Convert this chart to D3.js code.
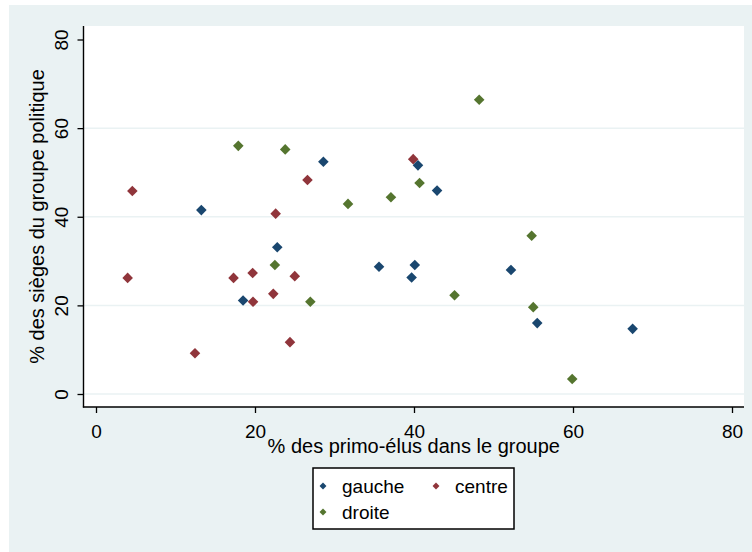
<!DOCTYPE html>
<html>
<head>
<meta charset="utf-8">
<script src="https://cdn.jsdelivr.net/npm/d3@7"></script>
<style>
  html, body { margin: 0; padding: 0; background: #ffffff; }
  svg { display: block; font-family: "Liberation Sans", Arial, sans-serif; }
</style>
</head>
<body>
<svg id="chart" width="752" height="552"></svg>
<script>
// ---- data ----
const seriesNames = ["gauche", "centre", "droite"];
const gaucheX = [13.25, 18.5, 22.8, 28.6, 35.6, 39.7, 40.1, 40.5, 42.9, 52.2, 55.5, 67.5];
const gaucheY = [41.5, 21.1, 33.1, 52.4, 28.7, 26.3, 29.1, 51.6, 45.9, 28.0, 16.0, 14.7];
const centreX = [3.98, 4.57, 12.45, 17.3, 19.7, 19.75, 22.3, 22.6, 24.4, 25.0, 26.6, 39.9];
const centreY = [26.2, 45.8, 9.2, 26.2, 27.3, 20.8, 22.6, 40.7, 11.7, 26.6, 48.3, 53.0];
const droiteX = [17.9, 22.5, 23.8, 26.96, 31.7, 37.1, 40.7, 45.1, 48.2, 54.8, 55.0, 59.9];
const droiteY = [56.0, 29.1, 55.2, 20.8, 42.9, 44.4, 47.6, 22.3, 66.4, 35.7, 19.6, 3.4];
const xTicks = [0, 20, 40, 60, 80];
const yTicks = [0, 20, 40, 60, 80];
const gridTicks = [0, 20, 40, 60];
const xTitle = "% des primo-élus dans le groupe";
const yTitle = "% des sièges du groupe politique";

const colors = { gauche: "#1a476f", centre: "#90353b", droite: "#55752f" };

const series = [
  { name: "centre", xs: centreX, ys: centreY },
  { name: "gauche", xs: gaucheX, ys: gaucheY },
  { name: "droite", xs: droiteX, ys: droiteY }
];

// ---- layout ----
const svg = d3.select("#chart");
const plot = { left: 83.5, right: 744, top: 26, bottom: 407 };

svg.append("rect").attr("x", 9).attr("y", 5).attr("width", 743).attr("height", 547)
  .attr("fill", "#eaf2f3");
svg.append("rect").attr("x", plot.left).attr("y", plot.top)
  .attr("width", plot.right - plot.left).attr("height", plot.bottom - plot.top)
  .attr("fill", "#ffffff");

const x = d3.scaleLinear().domain([0, 80]).range([96, 732]);
const y = d3.scaleLinear().domain([0, 80]).range([394, 39.5]);

// gridlines
svg.append("g").selectAll("line").data(gridTicks).join("line")
  .attr("x1", plot.left).attr("x2", plot.right)
  .attr("y1", d => y(d)).attr("y2", d => y(d))
  .attr("stroke", "#eaf2f3").attr("stroke-width", 1.5);

// y axis
const yAxis = svg.append("g").attr("transform", `translate(${plot.left},0)`)
  .call(d3.axisLeft(y).tickValues(yTicks).tickSize(6).tickSizeOuter(0).tickFormat(d3.format("d")));
yAxis.select(".domain").remove();
yAxis.selectAll(".tick line").attr("stroke", "#000").attr("stroke-width", 1.3);
yAxis.selectAll(".tick text")
  .attr("x", null).attr("dy", null)
  .attr("transform", "translate(-15.5,0) rotate(-90)")
  .attr("text-anchor", "middle")
  .attr("fill", "#000")
  .style("font-size", "19px").style("font-family", "Liberation Sans, Arial, sans-serif");

// x axis
const xAxis = svg.append("g").attr("transform", `translate(0,${plot.bottom})`)
  .call(d3.axisBottom(x).tickValues(xTicks).tickSize(6).tickSizeOuter(0).tickFormat(d3.format("d")));
xAxis.select(".domain").remove();
xAxis.selectAll(".tick line").attr("stroke", "#000").attr("stroke-width", 1.3);
xAxis.selectAll(".tick text")
  .attr("y", 31).attr("dy", null)
  .attr("fill", "#000")
  .style("font-size", "19px").style("font-family", "Liberation Sans, Arial, sans-serif");

// axis lines
svg.append("line").attr("x1", plot.left).attr("x2", plot.left)
  .attr("y1", plot.top).attr("y2", plot.bottom + 0.6)
  .attr("stroke", "#000").attr("stroke-width", 1.4);
svg.append("line").attr("x1", plot.left - 0.6).attr("x2", plot.right)
  .attr("y1", plot.bottom).attr("y2", plot.bottom)
  .attr("stroke", "#000").attr("stroke-width", 1.4);

// titles
svg.append("text").attr("x", (plot.left + plot.right) / 2).attr("y", 453)
  .attr("text-anchor", "middle").attr("fill", "#000")
  .style("font-size", "20px").text(xTitle);
svg.append("text")
  .attr("transform", `translate(44,${(plot.top + plot.bottom) / 2}) rotate(-90)`)
  .attr("text-anchor", "middle").attr("fill", "#000")
  .style("font-size", "20px").text(yTitle);

// markers
const diamond = d3.symbol().type(d3.symbolSquare).size(56);
series.forEach(s => {
  const pts = s.xs.map((v, i) => [v, s.ys[i]]);
  svg.append("g").selectAll("path").data(pts).join("path")
    .attr("d", diamond)
    .attr("transform", d => `translate(${x(d[0])},${y(d[1])}) rotate(45)`)
    .attr("fill", colors[s.name]);
});

// legend
const lg = svg.append("g");
lg.append("rect").attr("x", 313).attr("y", 468).attr("width", 201).attr("height", 61)
  .attr("fill", "#fff").attr("stroke", "#000").attr("stroke-width", 1.5);
const legendPos = [
  { name: "gauche", mx: 323, my: 486 },
  { name: "centre", mx: 436, my: 486 },
  { name: "droite", mx: 323, my: 512 }
];
const smallDiamond = d3.symbol().type(d3.symbolSquare).size(24);
legendPos.forEach(l => {
  lg.append("path").attr("d", smallDiamond)
    .attr("transform", `translate(${l.mx},${l.my}) rotate(45)`)
    .attr("fill", colors[l.name]);
  lg.append("text").attr("x", l.mx + 19).attr("y", l.my + 6.7)
    .attr("fill", "#000").style("font-size", "19px").text(l.name);
});
</script>
</body>
</html>
